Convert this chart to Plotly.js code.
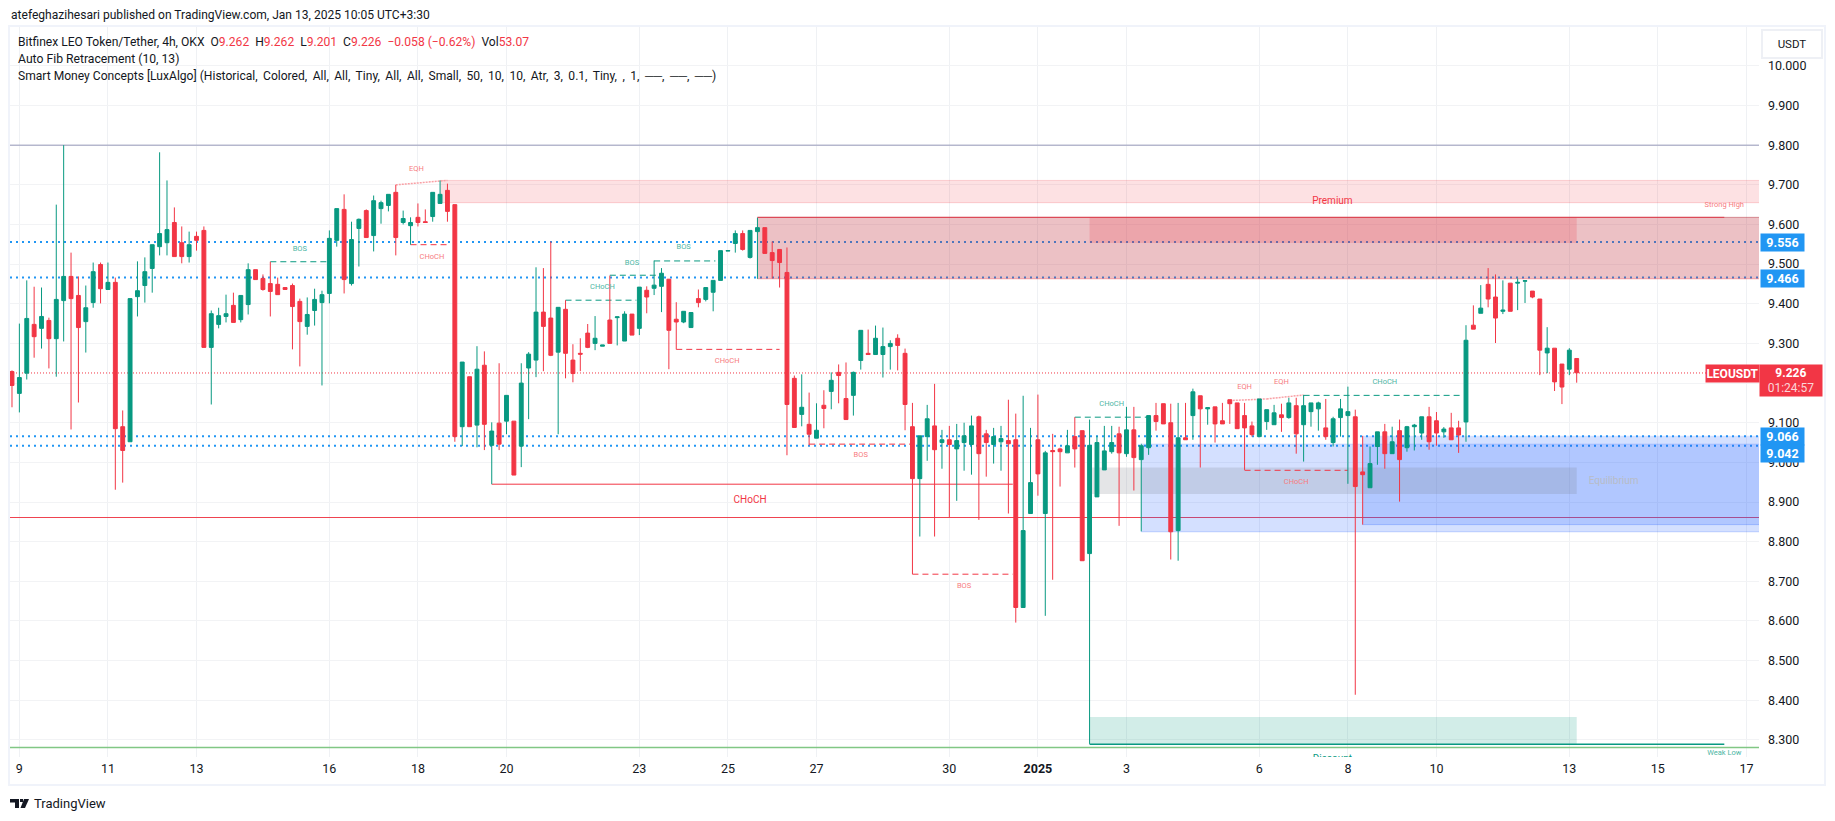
<!DOCTYPE html>
<html><head><meta charset="utf-8">
<script src="https://cdn.plot.ly/plotly-3.0.1.min.js"></script>
<style>html,body{margin:0;padding:0;background:#fff;overflow:hidden}#c{width:1835px;height:821px}</style>
</head><body><div id="c"></div>
<script>
const opens=[9.229,9.174,9.225,9.348,9.338,9.358,9.312,9.408,9.469,9.421,
9.355,9.403,9.499,9.436,9.454,9.09,9.052,9.418,9.446,9.489,
9.544,9.554,9.605,9.554,9.519,9.57,9.585,9.29,9.348,9.368,
9.396,9.36,9.398,9.486,9.464,9.451,9.449,9.441,9.446,9.406,
9.343,9.383,9.403,9.426,9.56,9.638,9.451,9.59,9.635,9.572,
9.64,9.648,9.681,9.605,9.597,9.618,9.607,9.62,9.653,9.686,
9.65,9.09,9.216,9.094,9.245,9.043,9.099,9.104,9.104,9.041,
9.238,9.258,9.379,9.364,9.278,9.386,9.258,9.275,9.326,9.3,
9.293,9.359,9.365,9.306,9.374,9.338,9.434,9.439,9.444,9.462,
9.361,9.354,9.34,9.413,9.411,9.429,9.459,9.533,9.552,9.577,
9.517,9.582,9.592,9.529,9.537,9.479,9.212,9.121,9.096,9.061,
9.144,9.179,9.227,9.161,9.169,9.257,9.275,9.272,9.272,9.292,
9.313,9.275,9.09,8.959,9.065,9.092,9.05,9.057,9.034,9.05,
9.045,9.115,9.072,9.045,9.052,9.055,9.057,8.634,8.871,9.057,
8.871,9.03,9.034,9.024,9.065,9.08,8.77,8.913,8.981,9.027,
9.072,9.022,9.082,9.007,9.037,9.118,9.148,9.1,8.828,9.062,
9.118,9.168,9.135,9.14,9.105,9.158,9.15,9.118,9.092,9.065,
9.103,9.095,9.12,9.113,9.143,9.095,9.128,9.135,9.087,9.05,
9.113,9.118,9.115,8.976,8.936,9.04,9.077,9.022,9.08,9.037,
9.09,9.074,9.115,9.105,9.077,9.087,9.087,9.102,9.346,9.376,
9.449,9.417,9.381,9.452,9.452,9.457,9.432,9.412,9.276,9.288,
9.248,9.235,9.262];
const highs=[9.232,9.35,9.459,9.443,9.441,9.365,9.65,9.80,9.529,9.469,
9.446,9.504,9.504,9.504,9.466,9.131,9.413,9.507,9.517,9.549,
9.782,9.711,9.643,9.595,9.582,9.582,9.595,9.383,9.39,9.423,
9.428,9.421,9.502,9.486,9.474,9.506,9.466,9.441,9.451,9.413,
9.416,9.438,9.433,9.585,9.64,9.676,9.607,9.615,9.638,9.673,
9.66,9.676,9.70,9.635,9.618,9.653,9.638,9.681,9.711,9.703,
9.65,9.253,9.216,9.293,9.28,9.101,9.25,9.169,9.104,9.25,
9.278,9.492,9.49,9.557,9.391,9.409,9.298,9.313,9.349,9.369,
9.296,9.471,9.367,9.381,9.374,9.442,9.444,9.509,9.49,9.462,
9.404,9.381,9.378,9.436,9.441,9.459,9.534,9.534,9.585,9.585,
9.585,9.617,9.592,9.557,9.537,9.542,9.219,9.222,9.176,9.149,
9.182,9.227,9.247,9.252,9.229,9.333,9.335,9.345,9.34,9.308,
9.323,9.287,9.15,9.067,9.145,9.198,9.082,9.092,9.097,9.1,
9.118,9.118,9.082,9.087,9.092,9.158,9.123,9.168,9.087,9.171,
9.029,9.072,9.037,9.082,9.114,9.08,9.108,9.067,9.092,9.092,
9.09,9.14,9.14,9.047,9.118,9.15,9.148,9.148,9.15,9.15,
9.186,9.168,9.138,9.14,9.15,9.158,9.15,9.15,9.103,9.16,
9.133,9.145,9.148,9.163,9.163,9.17,9.15,9.153,9.16,9.115,
9.16,9.191,9.133,9.067,9.04,9.077,9.097,9.09,9.108,9.092,
9.097,9.115,9.14,9.127,9.089,9.125,9.105,9.346,9.396,9.447,
9.49,9.474,9.459,9.452,9.464,9.459,9.432,9.412,9.341,9.288,
9.248,9.288,9.262];
const lows=[9.139,9.126,9.209,9.264,9.287,9.237,9.216,9.305,9.083,9.151,
9.277,9.39,9.401,9.436,8.931,8.949,9.052,9.368,9.403,9.428,
9.522,9.522,9.519,9.502,9.504,9.534,9.29,9.146,9.338,9.353,
9.353,9.353,9.373,9.461,9.433,9.368,9.423,9.436,9.285,9.242,
9.322,9.345,9.194,9.401,9.544,9.426,9.446,9.494,9.567,9.532,
9.602,9.633,9.522,9.6,9.549,9.595,9.605,9.607,9.653,9.607,
9.052,9.041,9.09,9.038,9.031,8.945,9.031,9.071,8.968,8.988,
9.109,9.215,9.23,9.268,9.071,9.212,9.202,9.23,9.288,9.283,
9.293,9.3,9.295,9.306,9.321,9.321,9.376,9.422,9.379,9.235,
9.285,9.351,9.34,9.391,9.406,9.381,9.459,9.533,9.529,9.534,
9.514,9.463,9.527,9.464,9.441,9.018,9.088,9.091,9.043,9.061,
9.086,9.134,9.149,9.108,9.118,9.234,9.272,9.272,9.214,9.234,
9.232,9.081,8.718,8.813,9.004,8.813,8.984,8.862,8.903,8.979,
8.969,8.855,8.964,8.997,8.979,8.871,8.596,8.634,8.871,8.916,
8.613,8.704,8.939,9.024,8.987,8.752,8.29,8.913,8.981,9.022,
8.84,9.014,8.929,8.826,9.019,9.08,9.097,8.755,8.752,9.057,
9.057,8.987,9.095,9.05,9.097,9.097,9.085,8.981,9.065,9.065,
9.082,9.095,9.077,9.11,9.022,9.002,9.09,9.08,9.057,9.04,
9.065,8.946,8.414,8.843,8.936,8.994,8.984,9.022,8.901,9.027,
9.03,9.057,9.032,9.042,9.062,9.057,9.024,9.052,9.336,9.376,
9.391,9.301,9.374,9.381,9.384,9.402,9.414,9.22,9.225,9.18,
9.147,9.22,9.201];
const closes=[9.194,9.214,9.363,9.317,9.368,9.312,9.411,9.469,9.413,9.34,
9.39,9.481,9.438,9.454,9.085,9.03,9.413,9.433,9.481,9.549,
9.577,9.587,9.519,9.519,9.549,9.56,9.29,9.375,9.37,9.375,
9.353,9.421,9.486,9.461,9.436,9.431,9.423,9.436,9.393,9.355,
9.373,9.411,9.423,9.565,9.64,9.461,9.562,9.613,9.567,9.66,
9.655,9.676,9.567,9.615,9.605,9.605,9.605,9.681,9.676,9.633,
9.065,9.253,9.09,9.235,9.096,9.079,9.046,9.169,8.968,9.2,
9.273,9.379,9.343,9.27,9.391,9.275,9.224,9.273,9.29,9.313,
9.296,9.3,9.367,9.374,9.321,9.442,9.417,9.447,9.477,9.333,
9.354,9.381,9.378,9.403,9.441,9.459,9.534,9.534,9.577,9.537,
9.585,9.592,9.527,9.509,9.504,9.146,9.088,9.139,9.071,9.081,
9.136,9.207,9.219,9.108,9.227,9.333,9.272,9.313,9.292,9.3,
9.295,9.146,8.959,9.067,9.11,9.032,9.057,9.045,9.055,9.067,
9.092,9.022,9.05,9.065,9.06,9.047,8.634,8.828,8.949,8.971,
9.024,9.027,9.027,9.042,9.034,8.752,9.043,9.05,9.029,9.05,
9.024,9.082,9.012,9.042,9.118,9.103,9.097,8.825,9.062,9.057,
9.178,9.135,9.138,9.097,9.097,9.148,9.085,9.087,9.07,9.16,
9.133,9.125,9.113,9.15,9.072,9.143,9.15,9.15,9.065,9.11,
9.135,9.128,8.939,8.969,8.997,9.077,9.022,9.052,9.007,9.09,
9.094,9.115,9.052,9.074,9.084,9.057,9.069,9.308,9.336,9.389,
9.412,9.364,9.384,9.381,9.454,9.458,9.417,9.283,9.288,9.203,
9.19,9.283,9.226];

const priceTicks=[10,9.9,9.8,9.7,9.6,9.5,9.4,9.3,9.2,9.1,9,8.9,8.8,8.7,8.6,8.5,8.4,8.3];
const priceLabels=['10.000','9.900','9.800','9.700','9.600','9.500','9.400','9.300','','9.100','9.000','8.900','8.800','8.700','8.600','8.500','8.400','8.300'];
const dateTicks=['2024-12-09','2024-12-11','2024-12-13','2024-12-16','2024-12-18','2024-12-20','2024-12-23','2024-12-25','2024-12-27','2024-12-30','2025-01-01','2025-01-03','2025-01-06','2025-01-08','2025-01-10','2025-01-13','2025-01-15','2025-01-17'];
const dateLabels=['9','11','13','16','18','20','23','25','27','30','<b>2025</b>','3','6','8','10','13','15','17'];

// candle index, candle index, price
const greenDashes=[[35,42.8,9.506],[75,84.6,9.409],[81,87.5,9.472],[87,95.3,9.508],[144,153.9,9.114],[175,196.6,9.169]];
const redDashes=[[54,59.1,9.549],[90,104,9.285],[108,122,9.046],[122,135.6,8.718],[167,181,8.98]];
const eqhLines=[[52,59,9.70,9.711],[165,170,9.156,9.16],[170,175,9.16,9.17]];
const fibLevels=[9.556,9.466,9.066,9.042];

const greenLabels=['BOS','CHoCH','BOS','BOS','CHoCH','CHoCH','Weak Low'];
const greenLabelI=[39,80,84,91,149,186,232];
const greenLabelP=[9.537,9.442,9.502,9.542,9.147,9.202,8.266];
const redLabels=['EQH','CHoCH','CHoCH','BOS','BOS','EQH','EQH','CHoCH','Strong High'];
const redLabelI=[54.8,56.9,96.9,115,129,167,172,174,232];
const redLabelP=[9.739,9.518,9.255,9.018,8.689,9.19,9.202,8.95,9.648];

const T0=Date.UTC(2024,11,8,20,0,0), H4=4*3600*1000;
const t=i=>new Date(T0+i*H4).toISOString().replace('Z','');
const xs=opens.map((_,i)=>t(i));
const I0=-0.27, I1=236.7;
const L=10,W=1749,TOP=27,HH=730;
const px=x=>(x-L)/W, py=y=>1-(y-TOP)/HH;

const GREEN='#089981', RED='#f23645', BLUE='#2196f3';
const shapes=[];
const hl=(i0,i1,p,color,width,dash)=>shapes.push({type:'line',layer:'between',xref:'x',yref:'y',x0:t(i0),x1:t(i1),y0:p,y1:p,line:{color,width,dash:dash||'solid'}});
const box=(i0,i1,lo,hi,fill)=>shapes.push({type:'rect',layer:'between',xref:'x',yref:'y',x0:t(i0),x1:t(i1),y0:lo,y1:hi,fillcolor:fill,line:{width:0}});

fibLevels.forEach(p=>hl(I0,I1,p,BLUE,2,'2px,4px'));
hl(I0,I1,9.8,'#9598b8',1);
hl(I0,I1,8.861,'#ef4350',1);
hl(I0,I1,8.281,'#81c784',1.5);
hl(I0,I1,9.2255,RED,1,'1px,2px');

box(58,I1,9.655,9.711,'rgba(242,54,69,0.15)');
hl(58,I1,9.711,'rgba(242,54,69,0.2)',1); hl(58,I1,9.655,'rgba(242,54,69,0.2)',1);
box(101,I1,9.463,9.618,'rgba(190,40,55,0.29)');
hl(101,I1,9.618,'rgba(178,40,51,0.45)',1); hl(101,I1,9.463,'rgba(242,54,69,0.4)',1);
box(146,212,9.553,9.618,'rgba(242,54,69,0.2)');
box(153,I1,8.825,9.046,'rgba(41,98,255,0.2)');
hl(153,I1,9.046,'rgba(41,98,255,0.2)',1); hl(153,I1,8.825,'rgba(41,98,255,0.25)',1);
box(183,I1,8.843,9.067,'rgba(41,98,255,0.2)');
hl(183,I1,8.843,'rgba(41,98,255,0.25)',1);
box(146,212,8.92,8.987,'rgba(120,123,134,0.2)');
box(146,212,8.289,8.358,'rgba(8,153,129,0.18)');

greenDashes.forEach(d=>hl(d[0],d[1],d[2],GREEN,1,'6px,4px'));
redDashes.forEach(d=>hl(d[0],d[1],d[2],RED,1,'6px,4px'));
hl(65,135.6,8.945,RED,1);
hl(101,232,9.618,'#dc3c4a',1);
hl(146,232,8.289,GREEN,1.5);
eqhLines.forEach(d=>shapes.push({type:'line',layer:'between',xref:'x',yref:'y',x0:t(d[0]),x1:t(d[1]),y0:d[2],y1:d[3],line:{color:'#f9a0a5',width:1.5,dash:'2px,1px'}}));

const pframe=(x0,y0,x1,y1)=>shapes.push({type:'rect',xref:'paper',yref:'paper',x0:px(x0),x1:px(x1),y0:py(y0),y1:py(y1),line:{color:'#f0f3fa',width:2},fillcolor:'rgba(0,0,0,0)'});
pframe(9,26,1825,785);
const P=(arr)=>'M '+arr.map(a=>px(a[0])+' '+py(a[1])).join(' L ')+' Z';
[[[10,799],[19,799],[19,808],[15,808],[15,802.5],[10,802.5]],
 [[20,799],[23,799],[23,802],[20,802]],
 [[24,799],[29,799],[25,808],[20.5,808]]].forEach(a=>shapes.push({type:'path',xref:'paper',yref:'paper',path:P(a),fillcolor:'#131722',line:{width:0}}));

const FONT='Roboto, "Noto Sans", sans-serif';
const anns=[];
const txt=(x,y,text,size,color,anchor,extra)=>anns.push(Object.assign({xref:'paper',yref:'paper',x:px(x),y:py(y),text,showarrow:false,xanchor:anchor||'left',yanchor:'middle',font:{family:FONT,size,color},borderpad:0},extra||{}));
const R=s=>'<span style="color:#f23645">'+s+'</span>';
txt(9.5,15,'atefeghazihesari published on TradingView.com, Jan 13, 2025 10:05 UTC+3:30',12.05,'#131722');
txt(16.5,42,'Bitfinex LEO Token/Tether, 4h, OKX&#160;&#160;O'+R('9.262')+'&#160;&#160;H'+R('9.262')+'&#160;&#160;L'+R('9.201')+'&#160;&#160;C'+R('9.226')+'&#160;&#160;'+R('−0.058 (−0.62%)')+'&#160;&#160;Vol'+R('53.07'),12.1,'#131722');
txt(16.5,59,'Auto Fib Retracement (10, 13)',12.2,'#131722');
txt(16.5,76,'Smart Money Concepts [LuxAlgo] (Historical,&#8201; Colored,&#8201; All,&#8201; All,&#8201; Tiny,&#8201; All,&#8201; All,&#8201; Small,&#8201; 50,&#8201; 10,&#8201; 10,&#8201; Atr,&#8201; 3,&#8201; 0.1,&#8201; Tiny,&#8201; ,&#8201; 1,&#8201; ──,&#8201; ──,&#8201; ──)',12.08,'#131722');
txt(1792,44,'USDT',11.5,'#131722','center',{width:58,height:26,bordercolor:'#eef0f5',borderwidth:2,bgcolor:'#fff',align:'center'});
const tag=(y,label)=>txt(1760,y,label,12.5,'#fff','left',{width:43,height:17,bgcolor:BLUE,align:'center',font:{family:FONT,size:12.5,color:'#fff',weight:700}});
tag(242.5,'9.556'); tag(278.5,'9.466'); tag(436.5,'9.066'); tag(453.5,'9.042');
txt(1705,373.5,'LEOUSDT',12,'#fff','left',{width:53,height:17,bgcolor:RED,align:'center',font:{family:FONT,size:12,color:'#fff',weight:700}});
txt(1759,380.5,'<b>9.226</b><br><span style="color:#fbd5d8">01:24:57</span>',12,'#fff','left',{width:62,height:31,bgcolor:RED,align:'center'});
txt(33,804,'TradingView',13,'#131722');

const label=(x,y,text,size,color)=>({type:'scatter',mode:'text',x,y,text,textposition:'middle center',cliponaxis:true,hoverinfo:'skip',showlegend:false,textfont:{family:FONT,size,color}});
const data=[
 {type:'candlestick',x:xs,open:opens,high:highs,low:lows,close:closes,hoverinfo:'skip',showlegend:false,
  increasing:{line:{color:GREEN,width:1},fillcolor:GREEN},decreasing:{line:{color:RED,width:1},fillcolor:RED},whiskerwidth:0},
 label(greenLabelI.map(t),greenLabelP,greenLabels,7.5,'#4db6a4'),
 label(redLabelI.map(t),redLabelP,redLabels,7.5,'#f77c80'),
 label([t(100)],[8.904],['CHoCH'],10,RED),
 label([t(178.9)],[9.659],['Premium'],10,RED),
 label([t(217)],[8.953],['Equilibrium'],10,'#b8bcc6'),
 label([t(178.9)],[8.25],['Discount'],10,GREEN)
];
const layout={
 width:1835,height:821,paper_bgcolor:'#fff',plot_bgcolor:'#fff',showlegend:false,boxgap:0.25,
 margin:{l:L,r:1835-L-W,t:TOP,b:821-TOP-HH,pad:0},
 xaxis:{type:'date',range:[t(I0),t(I1)],tickmode:'array',tickvals:dateTicks,ticktext:dateLabels,tickfont:{family:FONT,size:12.5,color:'#131722'},
  showgrid:true,gridcolor:'#eff1f4',gridwidth:1,zeroline:false,showline:false,ticks:'',ticklabelstandoff:2,rangeslider:{visible:false},fixedrange:true},
 yaxis:{type:'linear',range:[8.257,10.098],side:'right',tickmode:'array',tickvals:priceTicks,ticktext:priceLabels,tickfont:{family:FONT,size:12.5,color:'#131722'},
  showgrid:true,gridcolor:'#f2f3f5',gridwidth:1,zeroline:false,showline:false,ticks:'',ticklabelstandoff:8,fixedrange:true},
 shapes,annotations:anns,font:{family:FONT}
};
Plotly.newPlot('c',data,layout,{staticPlot:true,displayModeBar:false});
</script></body></html>
